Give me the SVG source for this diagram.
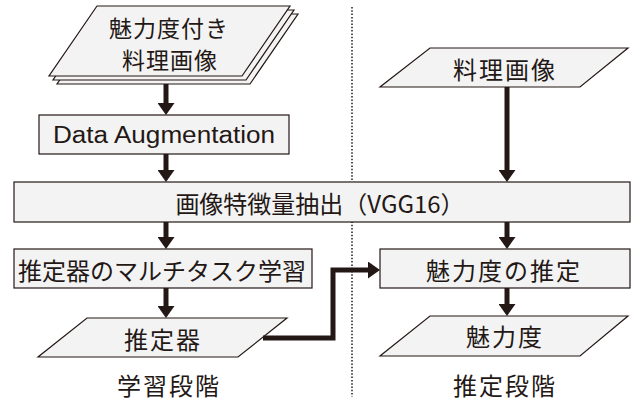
<svg xmlns="http://www.w3.org/2000/svg" width="634" height="405" viewBox="0 0 634 405">
<style>
.box{fill:#f3f3f3;stroke:#231815;stroke-width:1.2}
.t{font-family:"Noto Sans CJK JP","Noto Sans",sans-serif;font-size:24px;fill:#231815;text-anchor:middle}
.e{font-family:"Liberation Sans",Arial,sans-serif;font-size:23px;fill:#231815;text-anchor:middle}
.c{fill:none;stroke:#231815;stroke-width:5}
</style>
<defs>
<marker id="ah" markerUnits="userSpaceOnUse" markerWidth="12" markerHeight="17" viewBox="0 0 12 17" refX="0" refY="8.5" orient="auto">
<path d="M0,0 L12,8.5 L0,17 z" fill="#231815"/>
</marker>
</defs>
<rect width="634" height="405" fill="#ffffff"/>
<line x1="352" y1="7" x2="352" y2="397" stroke="#231815" stroke-width="1.5" stroke-dasharray="1.5 1.8"/>
<g id="images-labeled">
<polygon class="box" points="105,14 298,14 250,84 57,84"/>
<polygon class="box" points="101,10 294,10 246,80 53,80"/>
<polygon class="box" points="97,6 290,6 242,76 49,76"/>
<text class="t" x="169" y="37" style="font-size:23px" letter-spacing="1">魅力度付き</text>
<text class="t" x="170" y="69" style="font-size:23px" letter-spacing="1">料理画像</text>
</g>
<g id="data-augmentation">
<rect class="box" x="39" y="115" width="250" height="39"/>
<text class="e" x="164" y="143" textLength="222" lengthAdjust="spacingAndGlyphs">Data Augmentation</text>
</g>
<g id="feature-extraction">
<rect class="box" x="14" y="182" width="616" height="40"/>
<text class="t" x="320" y="213">画像特徴量抽出（VGG16）</text>
</g>
<g id="multitask-learning">
<rect class="box" x="14" y="249" width="298" height="39"/>
<text class="t" x="162" y="280">推定器のマルチタスク学習</text>
</g>
<g id="estimator">
<polygon class="box" points="87,318 287,318 238,357 38,357"/>
<text class="t" x="163" y="349" letter-spacing="2">推定器</text>
</g>
<g id="label-learning">
<text class="t" x="169" y="395" letter-spacing="2">学習段階</text>
</g>
<g id="images">
<polygon class="box" points="430,48 628,48 580,87 380,87"/>
<text class="t" x="505" y="79" letter-spacing="2">料理画像</text>
</g>
<g id="attractiveness-estimation">
<rect class="box" x="380" y="249" width="250" height="39"/>
<text class="t" x="504" y="280" letter-spacing="2">魅力度の推定</text>
</g>
<g id="attractiveness">
<polygon class="box" points="430,316 628,316 580,356 380,356"/>
<text class="t" x="505" y="346" letter-spacing="2">魅力度</text>
</g>
<g id="label-estimation">
<text class="t" x="505" y="395" letter-spacing="2">推定段階</text>
</g>
<g id="connectors">
<line class="c" x1="166" y1="84" x2="166" y2="103" marker-end="url(#ah)"/>
<line class="c" x1="166" y1="154" x2="166" y2="170" marker-end="url(#ah)"/>
<line class="c" x1="166" y1="222" x2="166" y2="237" marker-end="url(#ah)"/>
<line class="c" x1="166" y1="288" x2="166" y2="306" marker-end="url(#ah)"/>
<line class="c" x1="507" y1="87" x2="507" y2="170" marker-end="url(#ah)"/>
<line class="c" x1="507" y1="222" x2="507" y2="237" marker-end="url(#ah)"/>
<line class="c" x1="507" y1="288" x2="507" y2="304" marker-end="url(#ah)"/>
<path class="c" d="M263,338 H333 V270 H368" marker-end="url(#ah)"/>
</g>
</svg>
